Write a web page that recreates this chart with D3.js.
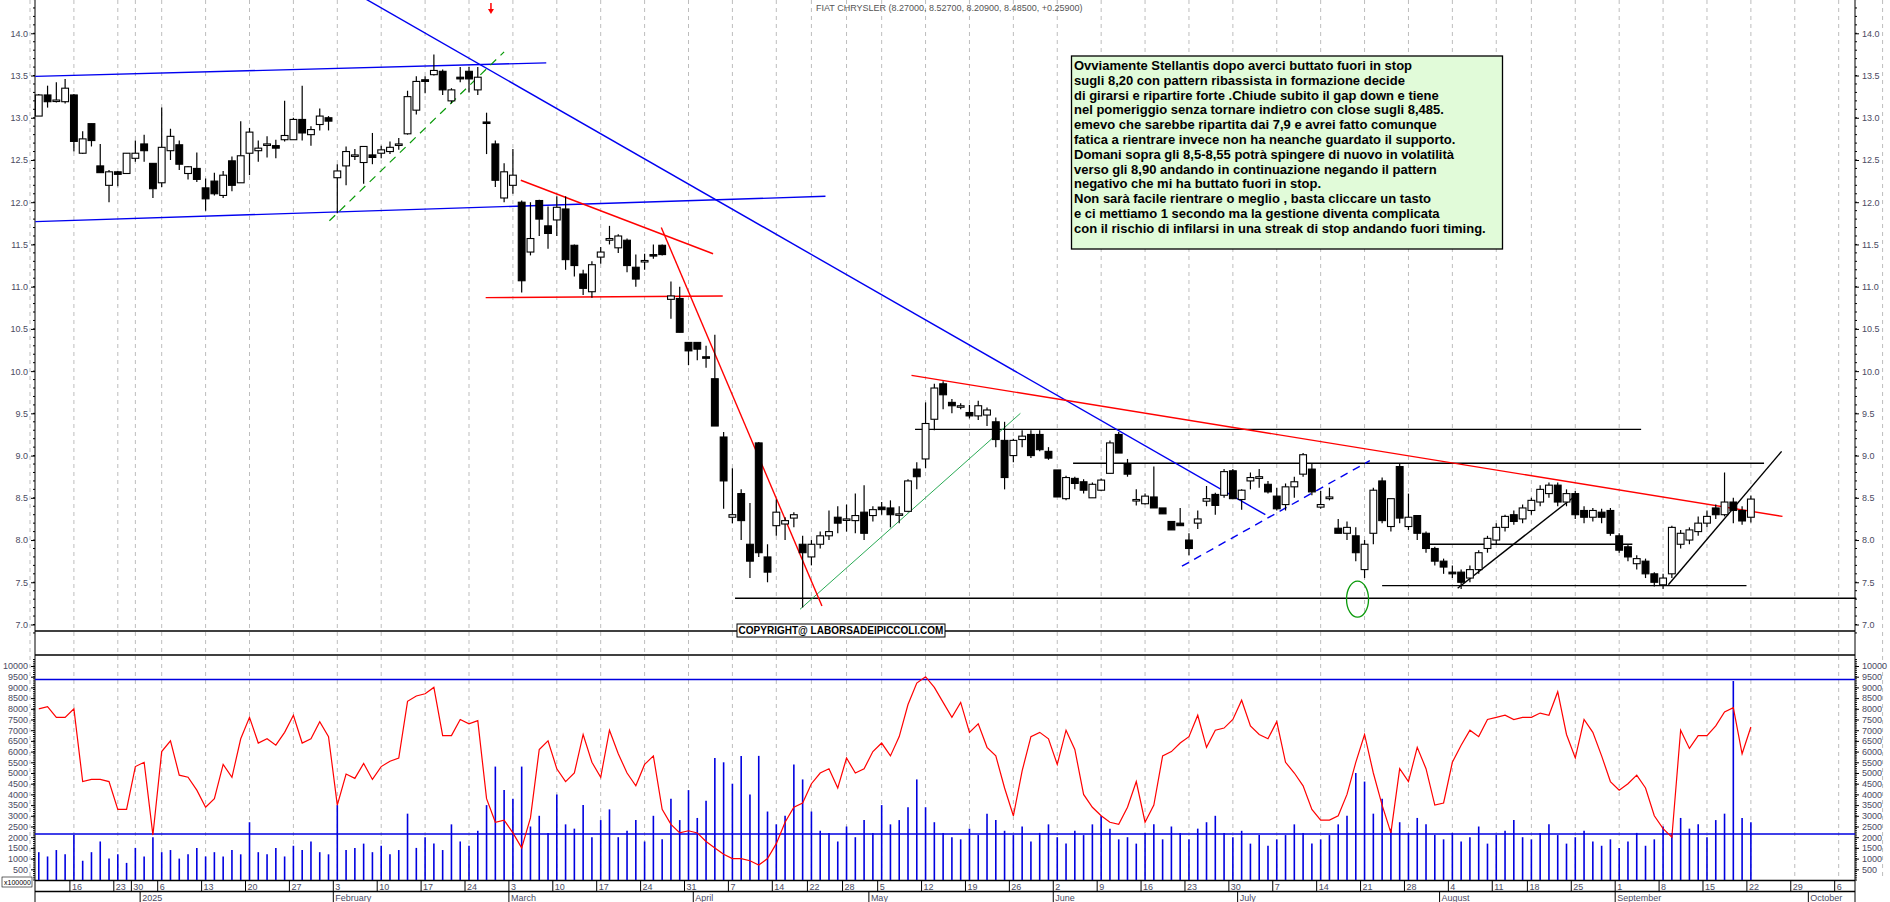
<!DOCTYPE html>
<html><head><meta charset="utf-8">
<script src="https://cdn.jsdelivr.net/npm/d3@7"></script>
<style>
body{margin:0;background:#fff;}
text{font-family:"Liberation Sans",Arial,sans-serif;}
</style></head>
<body><div id="chart"></div>
<script>
// trading calendar (Borsa Italiana), index 0 = 9 Dec 2024
const holidays = ["2024-12-24","2024-12-25","2024-12-26","2024-12-31","2025-01-01","2025-04-18","2025-04-21","2025-05-01","2025-08-15"];
const months = ["January","February","March","April","May","June","July","August","September","October","November","December"];

// OHLC, index 1..196 (10 Dec 2024 .. 22 Sep 2025)
const opens = [13.02,13.27,13.20,13.19,13.27,12.58,12.93,12.43,12.20,12.36,
12.34,12.52,12.69,12.46,12.23,12.61,12.68,12.34,12.40,12.17,
12.25,12.08,12.49,12.23,12.58,12.61,12.68,12.67,12.74,12.74,
12.98,12.80,12.92,13.00,12.29,12.43,12.55,12.47,12.56,12.58,
12.60,12.68,12.81,13.09,13.45,13.51,13.55,13.20,13.48,13.55,
13.33,12.95,12.69,12.05,12.20,12.00,11.41,12.02,11.72,11.79,
11.92,11.49,11.15,10.94,11.35,11.55,11.46,11.55,11.23,11.30,
11.38,11.49,10.85,10.86,10.34,10.34,10.17,9.91,9.22,8.27,
8.55,7.95,9.15,7.80,8.17,8.19,8.26,7.95,7.80,7.95,
8.05,8.27,8.24,8.23,8.33,8.29,8.39,8.38,8.30,8.34,
8.84,8.96,9.43,9.85,9.63,9.59,9.51,9.47,9.48,9.40,
9.18,9.00,9.19,9.25,9.25,9.05,8.83,8.49,8.73,8.69,
8.50,8.59,8.79,9.25,8.90,8.47,8.43,8.51,8.38,8.22,
8.20,8.00,8.20,8.46,8.54,8.53,8.82,8.48,8.70,8.73,
8.66,8.52,8.42,8.63,8.78,8.84,8.39,8.49,8.14,8.08,
8.05,7.65,8.08,8.70,8.16,8.87,8.16,8.29,8.08,7.90,
7.75,7.62,7.62,7.55,7.65,7.90,8.00,8.15,8.30,8.25,
8.35,8.45,8.55,8.65,8.45,8.55,8.35,8.27,8.33,8.35,
8.05,7.92,7.72,7.75,7.60,7.47,7.60,7.95,8.00,8.10,
8.20,8.38,8.30,8.45,8.35,8.27];
const highs = [13.28,13.38,13.42,13.46,13.28,12.84,12.93,12.69,12.38,12.37,
12.58,12.73,12.80,12.46,13.12,12.87,12.73,12.43,12.59,12.28,
12.35,12.37,12.54,12.96,12.88,12.73,12.78,12.74,13.20,13.00,
13.38,12.90,13.11,13.02,12.45,12.66,12.63,12.66,12.82,12.67,
12.72,12.76,13.32,13.49,13.49,13.75,13.57,13.35,13.60,13.60,
13.60,13.06,12.73,12.46,12.63,12.02,12.00,12.03,11.95,12.07,
12.07,11.50,11.20,11.30,11.47,11.72,11.62,11.57,11.38,11.39,
11.50,11.50,11.06,11.00,10.34,10.34,10.30,10.43,9.28,8.85,
8.60,8.44,9.16,7.95,8.48,8.27,8.33,8.05,8.00,8.10,
8.35,8.40,8.42,8.55,8.65,8.40,8.45,8.47,8.40,8.72,
8.92,9.63,9.85,9.88,9.67,9.62,9.60,9.65,9.57,9.45,
9.40,9.20,9.30,9.30,9.30,9.10,8.83,8.76,8.75,8.72,
8.68,8.73,9.18,9.28,8.96,8.60,8.55,8.87,8.38,8.22,
8.38,8.08,8.35,8.64,8.56,8.84,8.84,8.60,8.80,8.84,
8.70,8.62,8.67,8.75,9.03,8.90,8.58,8.62,8.25,8.22,
8.15,8.00,8.62,8.74,8.49,8.90,8.55,8.29,8.10,7.92,
7.78,7.70,7.65,7.70,7.88,8.05,8.20,8.30,8.35,8.42,
8.50,8.65,8.68,8.68,8.60,8.58,8.40,8.38,8.37,8.38,
8.08,7.95,7.82,7.78,7.62,7.60,8.17,8.12,8.15,8.28,
8.35,8.42,8.80,8.50,8.40,8.527];
const lows = [13.02,13.12,13.18,13.17,12.60,12.57,12.66,12.35,12.00,12.19,
12.34,12.48,12.48,12.05,12.18,12.50,12.38,12.27,12.24,11.90,
12.08,12.05,12.13,12.23,12.32,12.48,12.53,12.52,12.72,12.74,
12.73,12.67,12.85,12.85,11.87,12.20,12.50,12.22,12.45,12.52,
12.57,12.62,12.80,13.04,13.29,13.50,13.27,13.17,13.42,13.30,
13.27,12.57,12.18,12.00,12.10,10.93,11.37,11.60,11.45,11.60,
11.20,11.12,10.90,10.87,11.27,11.50,11.40,11.17,11.00,11.20,
11.33,11.37,10.62,10.46,10.07,10.13,10.04,9.35,8.37,8.20,
8.00,7.55,7.80,7.50,8.05,8.00,8.15,7.20,7.70,7.90,
8.00,8.08,8.10,8.08,8.00,8.22,8.30,8.15,8.20,8.33,
8.60,8.85,9.30,9.55,9.50,9.55,9.44,9.42,9.35,9.10,
8.60,8.92,9.10,8.97,9.05,8.95,8.51,8.47,8.60,8.55,
8.50,8.58,8.79,9.03,8.75,8.41,8.42,8.38,8.31,8.12,
8.17,7.82,8.13,8.40,8.30,8.50,8.49,8.36,8.60,8.62,
8.55,8.35,8.35,8.50,8.75,8.53,8.37,8.47,8.08,8.00,
7.75,7.55,7.95,8.20,8.10,8.20,8.12,8.00,7.85,7.70,
7.60,7.55,7.42,7.50,7.60,7.85,7.95,8.10,8.18,8.20,
8.30,8.40,8.50,8.40,8.40,8.25,8.20,8.22,8.20,8.05,
7.85,7.75,7.65,7.55,7.45,7.42,7.55,7.90,7.95,8.05,
8.15,8.25,8.28,8.20,8.18,8.209];
const closes = [13.27,13.19,13.21,13.35,12.72,12.75,12.73,12.35,12.36,12.33,
12.58,12.58,12.61,12.16,12.65,12.78,12.45,12.42,12.27,12.04,
12.10,12.32,12.20,12.55,12.83,12.64,12.69,12.64,12.79,12.98,
12.82,12.86,13.02,12.96,12.37,12.60,12.56,12.66,12.53,12.62,
12.65,12.69,13.25,13.43,13.43,13.56,13.33,13.33,13.46,13.46,
13.48,12.94,12.26,12.36,12.32,11.07,11.57,11.80,11.63,11.94,
11.32,11.25,10.98,11.26,11.41,11.57,11.60,11.25,11.09,11.31,
11.37,11.38,10.89,10.46,10.24,10.26,10.16,9.35,8.70,8.30,
8.23,7.75,7.85,7.62,8.33,8.23,8.30,7.85,7.95,8.05,
8.10,8.20,8.25,8.29,8.08,8.36,8.36,8.30,8.31,8.70,
8.75,9.38,9.80,9.72,9.59,9.59,9.47,9.59,9.54,9.19,
8.74,9.18,9.23,9.00,9.07,8.97,8.51,8.74,8.67,8.59,
8.66,8.71,9.15,9.03,8.78,8.48,8.52,8.38,8.31,8.12,
8.17,7.90,8.25,8.49,8.41,8.81,8.49,8.59,8.74,8.75,
8.57,8.37,8.63,8.69,9.01,8.57,8.42,8.51,8.08,8.15,
7.85,7.95,8.59,8.23,8.49,8.26,8.27,8.08,7.90,7.75,
7.68,7.60,7.50,7.65,7.85,8.02,8.15,8.28,8.22,8.38,
8.47,8.60,8.65,8.45,8.55,8.30,8.27,8.35,8.27,8.08,
7.88,7.80,7.78,7.60,7.50,7.55,8.15,8.08,8.12,8.20,
8.28,8.30,8.45,8.35,8.226,8.485];

// lower panel: volume bars and red oscillator (same 0..10000 scale)
const volumes = [1300,1100,1400,1200,2100,900,1300,1800,1000,1200,
800,1500,1100,2000,1300,1400,1000,1200,1500,1100,
1300,1100,1400,1200,2700,1300,1200,1500,1100,1600,
1400,1800,1300,1200,3500,1400,1500,1700,1300,1600,
1200,1400,3100,1500,2000,1700,1400,2600,1800,1600,
2300,3500,5300,4200,3800,5300,2500,3000,2200,4000,
2600,2400,3500,2000,2800,3300,2000,2300,2800,1800,
3000,1900,3800,2800,4200,2900,3700,5700,5500,4500,
5800,4000,5800,3200,2600,3000,5400,4700,3200,2300,
2200,1800,2500,2000,2800,2200,3500,2600,2800,3400,
4700,3400,2700,2200,2000,1900,2400,2100,3100,2800,
2300,2100,2500,1800,2200,2600,2000,1700,2300,2100,
2600,3000,2400,1900,2000,1700,2200,2600,1900,2500,
2200,1900,2400,2700,3000,2200,2000,2300,1700,2100,
1600,1900,2100,2600,2200,1700,1900,2100,2600,3000,
5000,4600,3100,3800,2400,2700,2200,2900,2600,2100,
1900,2200,1800,2000,2500,1700,2100,2300,2800,2000,
1900,2200,2600,2100,1700,2000,2300,1800,1600,1900,
1500,1800,2200,1600,1900,2500,2200,2900,2400,2600,
2000,2800,3100,9300,2900,2700];
const oscillator = [8000,8100,7600,7600,8000,4600,4700,4700,4600,3300,
3300,5300,5500,2100,6000,6500,4900,4800,4200,3400,
3800,5400,4800,6600,7600,6400,6600,6300,6900,7700,
6400,6600,7400,6700,3500,4950,4750,5450,4700,5300,
5550,5700,8350,8600,8700,9000,6750,6750,7500,7300,
7450,3800,2700,2800,2200,1500,2900,6100,6500,5200,
4600,5000,6800,5500,4800,7000,5900,5000,4400,5400,
5800,3300,2600,2200,2300,2200,1800,1500,1200,1000,
1000,900,700,1000,1700,2700,3400,3600,4500,5000,
5200,4300,5700,5000,5200,6000,6400,5800,6700,8200,
9200,9500,9000,8300,7600,8300,6900,7300,6200,5800,
4300,3000,5100,6700,6900,6600,5400,7000,6100,4000,
3400,3000,2700,2600,3400,4600,2700,3500,5800,6000,
6400,6700,7700,6200,7000,7100,7500,8400,7200,6800,
6600,7400,5500,5000,4400,3300,2800,2800,3000,4000,
5500,6800,5000,3500,2200,5200,4600,6200,5200,3500,
3600,5500,6300,7000,6700,7500,7600,7700,7500,7600,
7600,7800,7700,8800,6800,5700,7500,6900,5800,4600,
4200,4500,4900,4300,3000,2400,2000,7000,6150,6750,
6750,7200,7850,8050,5900,7150];

const priceTicks = d3.range(7, 14.01, 0.5);
const volTicks = d3.range(500, 10001, 500);

// drawn studies: [index1, price1, index2, price2]
const blueLines = [[0.6,13.49,58.8,13.65],[0.6,11.77,90.6,12.07],[38,14.42,140.7,8.30]];
const blueDashed = [[131.2,7.69,152.6,8.94]];
const greenDashed = [[34.1,11.78,54,13.78]];
const greenLines = [[87.7,7.18,112.8,9.50]];
const redLines = [[55.9,12.26,77.8,11.39],[51.9,10.87,78.9,10.89],[71.9,11.70,90.2,7.22],[100.4,9.95,199.6,8.28]];
const blackLines = [[100.8,9.31,183.5,9.31],[118.8,8.91,197.5,8.91],[80.3,7.31,208,7.31],[154,7.46,195.5,7.46],
  [159,7.95,182.5,7.95],[162.6,7.43,176.2,8.54],[186.6,7.47,199.5,9.05]];
const noteLines = [
"Ovviamente Stellantis dopo averci buttato fuori in stop",
"sugli 8,20 con pattern ribassista in formazione decide",
"di girarsi e ripartire forte .Chiude subito il gap down e tiene",
"nel pomeriggio senza tornare indietro con close sugli 8,485.",
"emevo che sarebbe ripartita dai 7,9  e avrei fatto comunque",
"fatica a rientrare invece non ha neanche guardato il supporto.",
"Domani sopra gli 8,5-8,55 potrà spingere di nuovo in volatilità",
"verso gli 8,90 andando in continuazione negando il pattern",
"negativo che mi ha buttato fuori in stop.",
"Non sarà facile rientrare o meglio , basta cliccare un tasto",
"e ci mettiamo 1 secondo ma la gestione diventa complicata",
"con il rischio di infilarsi in una streak di stop andando fuori timing."];

// build calendar
const fmt = d3.timeFormat("%Y-%m-%d");
const days = [];
for (let d = new Date(2024, 11, 9); days.length < 212; d = d3.timeDay.offset(d, 1)) {
  const wd = d.getDay();
  if (wd === 0 || wd === 6 || holidays.includes(fmt(d))) continue;
  days.push(new Date(d));
}

const W = 1890, H = 902, L = 35, R = 1855;
const x = d3.scaleLinear().domain([0, 208]).range([30, 30 + 208 * 8.78]);
const y = d3.scaleLinear().domain([7, 14]).range([624.5, 33.3]);
const yv = d3.scaleLinear().domain([0, 10000]).range([880, 666]);

const svg = d3.select("#chart").append("svg").attr("width", W).attr("height", H);
svg.append("rect").attr("width", W).attr("height", H).attr("fill", "#fff");

// weekly grid
const weekStarts = days.map((d, i) => i).filter(i => i > 0 && days[i].getDay() < days[i - 1].getDay() || i === 0);
svg.append("g").selectAll("line").data(weekStarts).enter().append("line")
  .attr("x1", d => x(d)).attr("x2", d => x(d)).attr("y1", 0).attr("y2", 880)
  .attr("stroke", "#bdbdbd").attr("stroke-dasharray", "4,4");

// panel frames
const frame = svg.append("g").attr("stroke", "#000");
frame.append("line").attr("x1", L).attr("x2", L).attr("y1", 0).attr("y2", 902);
frame.append("line").attr("x1", R).attr("x2", R).attr("y1", 0).attr("y2", 902);
[631, 655, 880.5, 891.5].forEach(v => frame.append("line").attr("x1", L).attr("x2", R).attr("y1", v).attr("y2", v).attr("stroke-width", 1.6));

// axes
const axisCol = "#4a4a62";
const leftP = d3.axisLeft(y).tickValues(priceTicks).tickFormat(d3.format(".1f")).tickSize(4);
const rightP = d3.axisRight(y).tickValues(priceTicks).tickFormat(d3.format(".1f")).tickSize(4);
const leftV = d3.axisLeft(yv).tickValues(volTicks).tickFormat(d3.format("d")).tickSize(4);
const rightV = d3.axisRight(yv).tickValues(volTicks).tickFormat(d3.format("d")).tickSize(4);
function styleAxis(g) {
  g.select(".domain").remove();
  g.selectAll("text").attr("fill", axisCol).style("font-size", "9px");
}
svg.append("g").attr("transform", `translate(${L},0)`).call(leftP).call(styleAxis);
svg.append("g").attr("transform", `translate(${R},0)`).call(rightP).call(styleAxis);
svg.append("g").attr("transform", `translate(${L},0)`).call(leftV).call(styleAxis);
svg.append("g").attr("transform", `translate(${R},0)`).call(rightV).call(styleAxis);
// minor ticks
const minorP = d3.range(6.9, 14.45, 0.1);
[[L, -2], [R, 2]].forEach(([px, dx]) => {
  svg.append("g").selectAll("line").data(minorP).enter().append("line")
    .attr("x1", px).attr("x2", px + dx).attr("y1", d => y(d)).attr("y2", d => y(d)).attr("stroke", "#000");
  svg.append("g").selectAll("line").data(d3.range(0, 10400, 100)).enter().append("line")
    .attr("x1", px).attr("x2", px + dx).attr("y1", d => yv(d)).attr("y2", d => yv(d)).attr("stroke", "#000");
});
svg.append("rect").attr("x", 2).attr("y", 877).attr("width", 30).attr("height", 10).attr("fill", "#fff").attr("stroke", "#000").attr("stroke-width", 0.6);
svg.append("text").attr("x", 4).attr("y", 885).text("x100000").style("font-size", "7px");

// volume bars
svg.append("g").selectAll("line").data(volumes).enter().append("line")
  .attr("x1", (d, i) => x(i + 1)).attr("x2", (d, i) => x(i + 1))
  .attr("y1", yv(0)).attr("y2", d => yv(d)).attr("stroke", "#0000e0").attr("stroke-width", 1.6);
svg.append("line").attr("x1", L).attr("x2", R).attr("y1", yv(9370)).attr("y2", yv(9370)).attr("stroke", "#0000e0").attr("stroke-width", 1.5);
svg.append("line").attr("x1", L).attr("x2", R).attr("y1", yv(2150)).attr("y2", yv(2150)).attr("stroke", "#0000e0").attr("stroke-width", 1.5);
svg.append("path").datum(oscillator)
  .attr("d", d3.line().x((d, i) => x(i + 1)).y(d => yv(d)))
  .attr("fill", "none").attr("stroke", "#f00").attr("stroke-width", 1.2);

// x axis labels
const xa = svg.append("g").style("font-size", "9px").attr("fill", axisCol);
weekStarts.filter(i => i > 0 && i < 208).forEach(i => {
  xa.append("line").attr("x1", x(i) - 4).attr("x2", x(i) - 4).attr("y1", 881).attr("y2", 891).attr("stroke", "#000");
  xa.append("text").attr("x", x(i) - 2).attr("y", 890).text(days[i].getDate());
});
days.forEach((d, i) => {
  if (i === 0 || i > 208 || d.getMonth() === days[i - 1].getMonth()) return;
  const label = d.getMonth() === 0 ? String(d.getFullYear()) : months[d.getMonth()];
  xa.append("line").attr("x1", x(i) - 4).attr("x2", x(i) - 4).attr("y1", 892).attr("y2", 902).attr("stroke", "#000");
  xa.append("text").attr("x", x(i) - 2).attr("y", 901).text(label);
});

// studies
const plotG = svg.append("g");
function drawSeg(list, col, w, dash) {
  plotG.append("g").selectAll("line").data(list).enter().append("line")
    .attr("x1", d => x(d[0])).attr("y1", d => y(d[1])).attr("x2", d => x(d[2])).attr("y2", d => y(d[3]))
    .attr("stroke", col).attr("stroke-width", w).attr("stroke-dasharray", dash || null);
}
drawSeg(blackLines, "#000", 1.4);
drawSeg(blueLines, "#0000f0", 1.4);
drawSeg(blueDashed, "#0000f0", 1.4, "8,6");
drawSeg(greenDashed, "#089a08", 1.2, "8,6");
drawSeg(greenLines, "#2aaa55", 1);
drawSeg(redLines, "#f00", 1.4);

// candles
const cg = svg.append("g");
closes.forEach((c, k) => {
  const i = k + 1, o = opens[k], up = c >= o;
  cg.append("line").attr("x1", x(i)).attr("x2", x(i)).attr("y1", y(highs[k])).attr("y2", y(lows[k])).attr("stroke", "#000").attr("stroke-width", 1.2);
  const top = y(Math.max(o, c)), h = Math.max(1.5, Math.abs(y(o) - y(c)));
  cg.append("rect").attr("x", x(i) - 3.4).attr("y", top).attr("width", 6.8).attr("height", h)
    .attr("fill", up ? "#fff" : "#000").attr("stroke", "#000").attr("stroke-width", 1.1);
});

plotG.append("ellipse").attr("cx", x(151.2)).attr("cy", y(7.3)).attr("rx", 11).attr("ry", 18)
  .attr("fill", "none").attr("stroke", "#0a9a0a").attr("stroke-width", 1.3);
// red arrow
const ax = x(52.5);
svg.append("line").attr("x1", ax).attr("x2", ax).attr("y1", 3).attr("y2", 10).attr("stroke", "#f00").attr("stroke-width", 1.5);
svg.append("path").attr("d", `M${ax - 3},9 L${ax + 3},9 L${ax},14 Z`).attr("fill", "#f00");

// title
svg.append("text").attr("x", 816).attr("y", 11).attr("fill", "#555").style("font-size", "9px")
  .text("FIAT CHRYSLER (8.27000, 8.52700, 8.20900, 8.48500, +0.25900)");

// copyright
svg.append("rect").attr("x", 737).attr("y", 624).attr("width", 208).attr("height", 13).attr("fill", "#fff").attr("stroke", "#000");
svg.append("text").attr("x", 841).attr("y", 634).attr("text-anchor", "middle").style("font-size", "10px").style("font-weight", "bold")
  .text("COPYRIGHT@ LABORSADEIPICCOLI.COM");

// note box
svg.append("rect").attr("x", 1071.5).attr("y", 56).attr("width", 431).attr("height", 193)
  .attr("fill", "#e1fbd9").attr("stroke", "#000").attr("stroke-width", 1.3);
const note = svg.append("g");
noteLines.forEach((t, k) => {
  const el = note.append("text").attr("x", 1074).attr("y", 70 + k * 14.8).style("font-size", "13px").style("font-weight", "bold").text(t);
  if (el.node().getComputedTextLength() > 426) el.attr("textLength", 426).attr("lengthAdjust", "spacingAndGlyphs");
});
</script></body></html>
